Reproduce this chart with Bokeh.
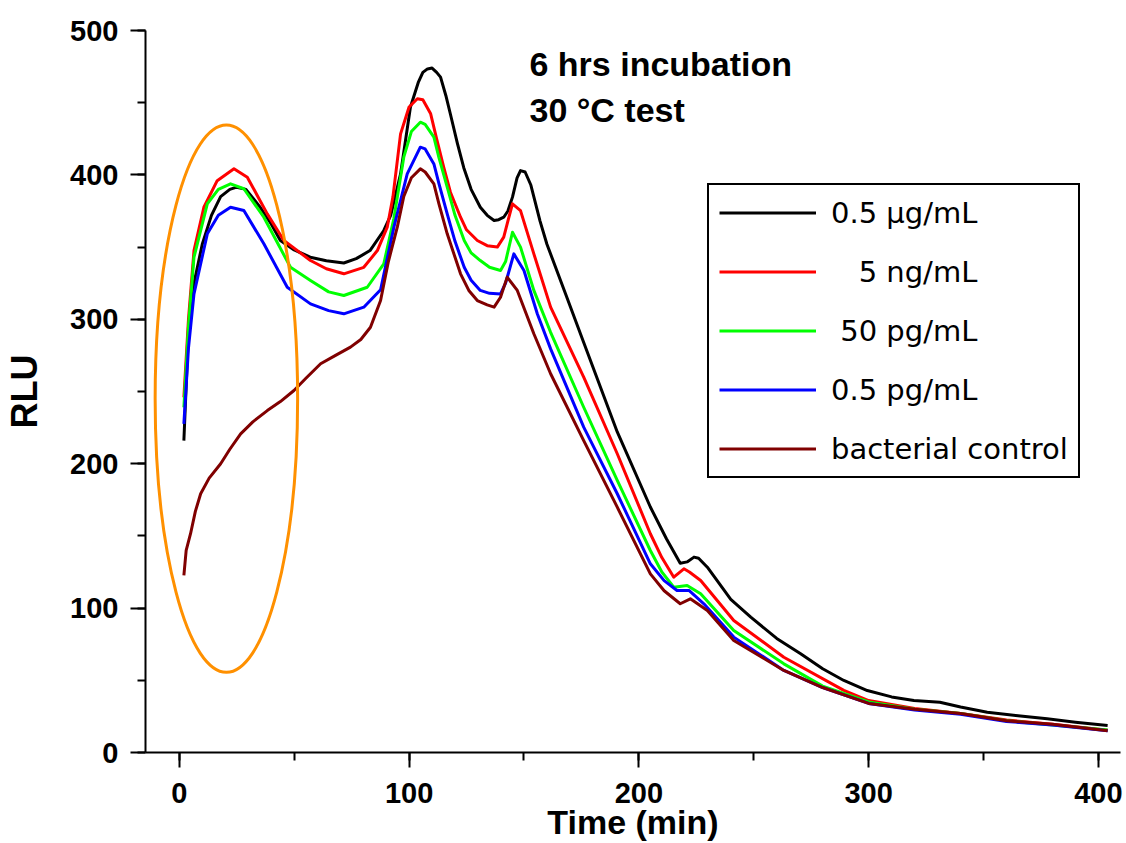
from bokeh.plotting import figure
from bokeh.models import Range1d, SingleIntervalTicker, Legend, LegendItem, Label
from bokeh.embed import file_html
from bokeh.resources import INLINE

# ---- data ----
black_x = [2, 4, 6.4, 10, 14, 18, 22, 25, 29, 35, 40, 44, 50, 57, 64, 71.6, 77, 83, 89, 92, 96.3,
           100.6, 104, 106, 108, 110, 112, 113.7, 116, 118, 121, 123.8, 127, 131, 134, 137, 139, 141.2, 143, 145, 147,
           148.5, 150.5, 153, 157, 160, 168, 176, 190.6, 205,
           212, 218, 221, 224, 226, 229.8, 240, 248.7, 260, 270.4, 280, 289.2, 299.4, 310, 319.7, 331, 340, 351.6, 365,
           377.7, 390, 404]
black_y = [216, 292, 325, 352, 372, 385, 390, 391.5, 390, 378, 366, 354.6, 348, 343, 340.5, 339, 342, 347.6, 361.5, 372, 400.7,
           447, 464, 471, 473.4, 474, 471, 467.7, 455, 442, 422, 405, 390, 377.6, 372, 368.4, 369, 370.7, 375, 384.6, 398,
           403, 402, 393, 368, 352, 318, 284, 222, 170,
           148, 131, 132, 135.3, 134.5, 128.3, 106, 93.7, 79, 68.4, 58, 49.9, 42.9, 38.5, 36, 34.8, 31.5, 27.9, 25.5,
           23.3, 21, 18.7]

red_x = [2, 4, 6.4, 10.7, 16.5, 23.8, 29.6, 38.3, 45.5, 57.1, 64, 71.6, 80.3, 86.2, 90.5, 93, 96.3, 100, 103.6, 106,
         109.4, 112, 115.1, 118, 122.4, 125, 129.7, 134, 138.4, 141.2, 143, 145, 148.5, 154.3, 161.6, 176, 190.6, 205,
         210, 215.2, 219.6, 222, 226.9, 241.3, 263.1, 289.2, 300, 320, 340, 360, 380, 404]
red_y = [246, 300, 347.6, 377.6, 396, 404.2, 398.4, 373, 354.6, 340.7, 335, 331.5, 336, 347.6, 363.8, 385, 428.4, 447, 452.7, 452,
         442.3, 425, 405.3, 388, 370.7, 362, 354.6, 351, 350, 356.9, 368, 380, 375.3, 345.3, 308.4, 259.9, 206.9, 151.5,
         135, 121.4, 127.2, 125, 119.1, 91.4, 66, 43, 36, 30.5, 27, 22.5, 19.5, 15.5]

green_x = [2, 4, 6.4, 12.2, 17, 22.3, 28.1, 36.8, 48.4, 57.1, 65, 71.6, 81.8, 89, 93.4, 97.7, 101, 104.9, 107, 110.8,
           113, 116.6, 120, 124, 127, 131, 135, 139.8, 142, 145, 148.5, 154.3, 161.6, 176, 190.6, 205, 210, 215.2, 221,
           226.9, 241.3, 263.1, 280, 300, 320, 340, 360, 380, 404]
green_y = [239, 295, 343, 380, 390, 393.8, 390.4, 370.7, 336, 326.9, 319, 316.5, 322.2, 338.4, 370, 412.3, 430, 436.5, 435, 426.1,
           412, 391.5, 372, 354.6, 346, 340.7, 336, 333.8, 340, 360.3, 350, 320, 291, 239.1, 188.4, 139.9, 125, 114.5, 115.7,
           109.9, 84.5, 61.4, 46, 35, 30, 27, 22, 19, 15.5]

blue_x = [2, 4, 6.4, 12.2, 17, 22.3, 28.1, 36.8, 47, 57.1, 65, 71.6, 80.3, 87.6, 93.4, 99.2, 104.9, 107, 110.8, 113,
          116.6, 120, 124, 127, 131, 135, 139.8, 142, 145.6, 150, 155.8, 161.6, 176, 190.6, 205, 211, 216.6, 221.8, 228.3,
          241.3, 263.1, 280, 300, 320, 340, 360, 380, 404]
blue_y = [227.6, 280, 317.6, 359.2, 372, 377.6, 375.3, 352.3, 322.2, 310.7, 306, 303.8, 308.4, 320.5, 363.8, 400.7, 419.2, 418, 407.6, 394,
          373, 354, 336, 327, 320, 318, 317.6, 325, 345.3, 333.8, 303.8, 279.5, 225.3, 179.2, 130.7, 119, 112.2, 112.2, 103,
          79.9, 56.8, 45, 34, 29.5, 26.5, 21.5, 19, 15]

control_x = [2, 3, 4.9, 7, 9.3, 13, 18, 22, 26.7, 32, 38.3, 44, 49.9, 55, 61.5, 68, 74.5, 79, 83.2, 87.6,
             91, 94.9, 97.7, 101, 104.9, 107, 110.8, 113, 116.6, 122.4, 126, 129.7, 134, 137, 139.8, 142.7, 147.1, 154.3,
             161.6, 176, 190.6, 205, 211, 218, 222.4, 229.8, 241.3, 263.1, 280, 300, 320, 340, 360, 380, 404]
control_y = [122.6, 140, 151.5, 167, 179.2, 190, 200, 210, 220.7, 229, 236.8, 243, 250.7, 259, 269.2, 275, 280.7, 286, 294.5, 313,
             340, 364, 385, 398, 404.2, 402, 393.8, 380, 359.2, 331.5, 320, 313, 310, 308.4, 315.3, 329.2, 320, 290,
             262.3, 216, 169.9, 123.7, 112, 103, 106.4, 98.3, 77.6, 56.8, 45, 34, 30, 27, 22, 19.5, 15]

series_labels = ["0.5 \u00b5g/mL", "\u00a0\u00a0\u00a05 ng/mL", "\u00a050 pg/mL", "0.5 pg/mL", "bacterial control"]
series_colors = ["#000000", "#ff0000", "#00ff00", "#0000ff", "#800000"]

# highlight ellipse (data units)
hl_x = [20.5]
hl_y = [245]
hl_w = [62]
hl_h = [379]

note_lines = ["6 hrs incubation", "30 \u00b0C test"]
note_x = 152.4
note_y = [477, 444.6]

x_ticks_interval = 100
y_ticks_interval = 100

# ---- figure ----
p = figure(width=1126, height=843, output_backend="svg", toolbar_location=None,
           x_range=Range1d(-14.7, 409.6), y_range=Range1d(0, 500),
           min_border_left=145, min_border_right=6, min_border_top=30, min_border_bottom=91,
           background_fill_color="white", border_fill_color="white")
p.outline_line_color = None
p.grid.visible = False

for ax, interval in ((p.xaxis, x_ticks_interval), (p.yaxis, y_ticks_interval)):
    ax.ticker = SingleIntervalTicker(interval=interval, num_minor_ticks=2)
    ax.axis_line_width = 2
    ax.axis_line_color = "black"
    ax.major_tick_line_width = 2
    ax.minor_tick_line_width = 2
    ax.major_tick_out = 15
    ax.major_tick_in = 0
    ax.minor_tick_out = 8
    ax.minor_tick_in = 0
    ax.major_label_text_font = "Liberation Sans"
    ax.major_label_text_font_style = "bold"
    ax.major_label_text_font_size = "29px"
    ax.major_label_text_color = "black"
    ax.axis_label_text_font = "Liberation Sans"
    ax.axis_label_text_font_style = "bold"
    ax.axis_label_text_font_size = "34px"
    ax.axis_label_text_color = "black"

p.xaxis.axis_label = "Time (min)"
p.yaxis.axis_label = "RLU"
p.yaxis.axis_label_text_font_size = "36px"
p.xaxis.major_label_standoff = 15
p.xaxis.axis_label_standoff = -3
p.yaxis.major_label_standoff = 12
p.yaxis.axis_label_standoff = 22

xs = [black_x, red_x, green_x, blue_x, control_x]
ys = [black_y, red_y, green_y, blue_y, control_y]
renderers = []
for x, y, c in zip(xs, ys, series_colors):
    r = p.line(x, y, line_color=c, line_width=3, line_join="round")
    renderers.append(r)

p.ellipse(x=hl_x, y=hl_y, width=hl_w, height=hl_h, fill_color=None,
          line_color="#ff9000", line_width=3)

for txt, yy in zip(note_lines, note_y):
    p.add_layout(Label(x=note_x, y=yy, text=txt, text_font="Liberation Sans",
                       text_font_style="bold", text_font_size="34px",
                       text_baseline="alphabetic", text_color="black"))

legend = Legend(items=[LegendItem(label=l, renderers=[r]) for l, r in zip(series_labels, renderers)],
                location=(562, 274))
legend.border_line_color = "black"
legend.border_line_alpha = 1
legend.border_line_width = 2
legend.background_fill_color = "white"
legend.background_fill_alpha = 1
legend.label_text_font = "DejaVu Sans"
legend.label_text_font_size = "29px"
legend.label_text_color = "black"
legend.glyph_width = 97
legend.glyph_height = 35
legend.label_height = 35
legend.label_standoff = 15
legend.spacing = 24
legend.padding = 10
legend.margin = 0
p.add_layout(legend)

open("out.html", "w").write(file_html(p, INLINE))
